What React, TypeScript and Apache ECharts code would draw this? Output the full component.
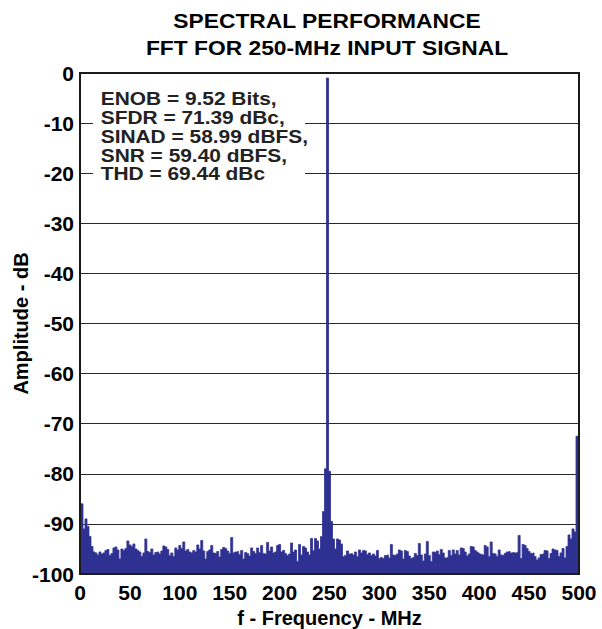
import React, { useEffect, useRef } from "react";
import * as echarts from "echarts";

const TITLE_LINES = ["SPECTRAL PERFORMANCE", "FFT FOR 250-MHz INPUT SIGNAL"];
const STATS = [
  "ENOB = 9.52 Bits,",
  "SFDR = 71.39 dBc,",
  "SINAD = 58.99 dBFS,",
  "SNR = 59.40 dBFS,",
  "THD = 69.44 dBc",
];
const X_NAME = "f - Frequency - MHz";
const Y_NAME = "Amplitude - dB";
const X_MIN = 0;
const X_MAX = 500;
const X_STEP = 50;
const Y_MIN = -100;
const Y_MAX = 0;
const Y_STEP = 10;
const BIN_MHZ = 2; // frequency spacing of the FFT bins below (0, 2, 4, ... 500 MHz)

// amplitude (dB) per 2-MHz bin
const AMPLITUDE_DB = [
  // 0-18
  -86, -86, -91, -89, -90.5, -92.5, -94.5, -95.6, -95.8, -96.2,
  // 20-38
  -95.6, -96.0, -95.8, -95.3, -95.1, -96.3, -95.9, -94.8, -94.6, -95.2,
  // 40-58
  -97.0, -95.0, -95.3, -94.9, -93.4, -94.2, -94.5, -94.0, -95.0, -95.3,
  // 60-78
  -95.6, -96.5, -95.8, -93.0, -95.5, -95.7, -95.0, -96.2, -95.7, -95.6,
  // 80-98
  -96.0, -95.4, -94.4, -94.6, -95.1, -96.3, -95.8, -96.5, -94.8, -95.2,
  // 100-118
  -94.3, -94.9, -93.6, -95.4, -95.1, -95.6, -95.8, -95.3, -95.6, -94.2,
  // 120-138
  -95.0, -93.3, -95.4, -97.0, -95.5, -95.2, -94.3, -95.8, -95.9, -95.5,
  // 140-158
  -96.6, -95.1, -94.7, -94.9, -95.4, -95.9, -92.7, -95.8, -95.6, -95.5,
  // 160-178
  -96.1, -95.3, -97.0, -95.7, -95.9, -96.4, -94.8, -95.5, -95.9, -94.8,
  // 180-198
  -95.7, -94.3, -95.9, -96.0, -93.7, -95.4, -94.6, -95.8, -95.6, -94.3,
  // 200-218
  -94.1, -95.6, -95.3, -95.9, -96.3, -96.0, -93.8, -95.6, -95.2, -97.5,
  // 220-238
  -94.1, -96.2, -94.5, -94.8, -95.6, -96.2, -92.9, -95.3, -92.9, -93.4,
  // 240-258
  -95.0, -92.5, -87.5, -79.0, -1.0, -79.5, -89.5, -93.0, -95.0, -93.0,
  // 260-278
  -93.2, -94.0, -96.5, -96.3, -95.4, -96.0, -95.9, -96.2, -95.6, -96.5,
  // 280-298
  -95.2, -95.8, -95.3, -95.4, -96.1, -95.8, -96.3, -96.0, -96.4, -95.3,
  // 300-318
  -96.9, -96.7, -96.9, -96.3, -96.2, -96.8, -94.1, -96.2, -96.3, -96.0,
  // 320-338
  -95.2, -95.4, -97.0, -95.3, -95.5, -96.4, -96.9, -96.7, -95.9, -96.3,
  // 340-358
  -93.9, -96.2, -97.4, -96.0, -93.5, -96.3, -97.5, -95.6, -95.7, -95.4,
  // 360-378
  -96.1, -95.1, -95.8, -96.8, -96.7, -95.3, -96.3, -95.2, -96.0, -95.3,
  // 380-398
  -96.2, -94.8, -94.9, -95.6, -96.4, -96.0, -94.5, -94.6, -95.3, -95.6,
  // 400-418
  -95.9, -96.1, -96.2, -94.3, -94.6, -96.5, -93.6, -95.9, -96.0, -96.5,
  // 420-438
  -95.2, -96.2, -96.3, -95.9, -95.6, -95.5, -95.8, -95.7, -95.8, -95.7,
  // 440-458
  -92.3, -96.9, -94.1, -94.3, -94.9, -95.5, -95.9, -95.8, -96.5, -97.2,
  // 460-478
  -96.8, -96.1, -96.0, -95.3, -95.4, -96.9, -95.9, -95.0, -95.2, -95.3,
  // 480-498
  -96.5, -95.8, -94.9, -96.8, -94.5, -92.2, -93.0, -91.0, -91.6, -72.5,
  // 500
  -72.5,
];

const NAVY = "#2e3192";
const FONT = "'Liberation Sans', Arial, Helvetica, sans-serif";

export default function App() {
  const ref = useRef<HTMLDivElement>(null);

  useEffect(() => {
    if (!ref.current) return;
    const chart = echarts.init(ref.current, null, { renderer: "svg" });
    const data = AMPLITUDE_DB.map((v, i) => [i * BIN_MHZ, v]);

    const titleEls = TITLE_LINES.map((t, i) => ({
      type: "text",
      x: 327,
      y: 21.2 + i * 26.8,
      scaleX: 1.14,
      z: 10,
      style: {
        text: t,
        fill: "#000",
        font: `bold 20px ${FONT}`,
        textAlign: "center",
        textVerticalAlign: "middle",
      },
    }));

    const statEls = STATS.map((t, i) => ({
      type: "text",
      x: 100.7,
      y: 98.2 + i * 18.9,
      scaleX: 1.1,
      z: 11,
      style: {
        text: t,
        fill: "#222",
        font: `bold 19px ${FONT}`,
        textAlign: "left",
        textVerticalAlign: "middle",
      },
    }));

    const labelStyle = {
      fontSize: 21,
      fontWeight: "bold",
      color: "#000",
      fontFamily: FONT,
    };

    chart.setOption({
      animation: false,
      backgroundColor: "#fff",
      textStyle: { fontFamily: FONT },
      grid: {
        left: 80,
        right: 23,
        top: 73,
        bottom: 55,
        containLabel: false,
        outerBoundsMode: "none",
        show: true,
        borderColor: "#1a1a1a",
        borderWidth: 2,
        backgroundColor: "transparent",
        z: 3,
      },
      xAxis: {
        type: "value",
        min: X_MIN,
        max: X_MAX,
        interval: X_STEP,
        name: X_NAME,
        nameLocation: "middle",
        nameGap: 34,
        nameMoveOverlap: false,
        nameTextStyle: { ...labelStyle, fontSize: 20 },
        axisLine: { show: false },
        axisTick: { show: false },
        splitLine: { show: false },
        axisLabel: {
          ...labelStyle,
          margin: 8,
          showMinLabel: true,
          showMaxLabel: true,
          alignMinLabel: "center",
          alignMaxLabel: "center",
          hideOverlap: false,
        },
      },
      yAxis: {
        type: "value",
        min: Y_MIN,
        max: Y_MAX,
        interval: Y_STEP,
        name: Y_NAME,
        nameLocation: "middle",
        nameGap: 49,
        nameRotate: 90,
        nameMoveOverlap: false,
        nameTextStyle: { ...labelStyle, fontSize: 20 },
        axisLine: { show: false },
        axisTick: { show: false },
        splitLine: { show: true, lineStyle: { color: "#2a2a2a", width: 1.2 } },
        axisLabel: {
          ...labelStyle,
          margin: 6,
        },
      },
      graphic: [
        {
          type: "rect",
          shape: { x: 93, y: 78, width: 212, height: 126 },
          style: { fill: "#fff" },
          z: 1,
        },
        ...titleEls,
        ...statEls,
      ],
      series: [
        {
          type: "line",
          data,
          step: "middle",
          symbol: "none",
          showSymbol: false,
          lineStyle: { color: NAVY, width: 0.8 },
          areaStyle: { color: NAVY, opacity: 1, origin: "start" },
          z: 2,
        },
      ],
    });

    return () => chart.dispose();
  }, []);

  return (
    <div
      ref={ref}
      style={{ position: "absolute", left: 0, top: 0, width: 602, height: 629 }}
    />
  );
}
